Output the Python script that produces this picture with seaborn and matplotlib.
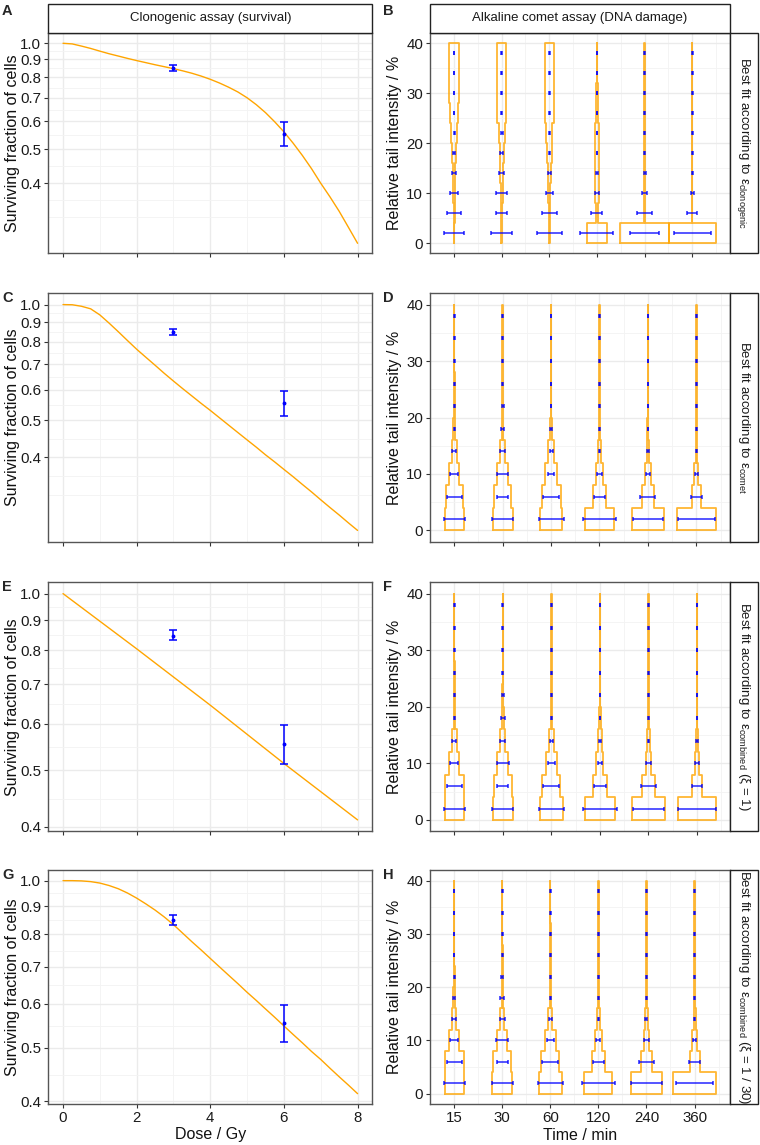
import numpy as np
import matplotlib
matplotlib.use("Agg")
import matplotlib.pyplot as plt
import seaborn as sns
import pandas as pd
from matplotlib.ticker import FixedLocator, FixedFormatter, NullFormatter
from matplotlib.patches import Rectangle

# ---------------- data ----------------
dose_curve = [0, 0.25, 0.5, 0.75, 1, 1.25, 1.5, 1.75, 2, 2.25, 2.5, 2.75, 3, 3.25, 3.5, 3.75,
              4, 4.25, 4.5, 4.75, 5, 5.25, 5.5, 5.75, 6, 6.25, 6.5, 6.75, 7, 7.25, 7.5, 7.75, 8]
sf_fit_A = [1.0, 0.996, 0.982, 0.967, 0.95, 0.934, 0.92, 0.906, 0.893, 0.881, 0.869, 0.858, 0.847,
            0.835, 0.822, 0.807, 0.79, 0.771, 0.75, 0.727, 0.70, 0.669, 0.635, 0.598, 0.56, 0.52,
            0.48, 0.44, 0.40, 0.366, 0.333, 0.30, 0.27]
sf_fit_C = [1.0, 0.999, 0.99, 0.975, 0.94, 0.895, 0.85, 0.806, 0.765, 0.729, 0.695, 0.662, 0.632,
            0.604, 0.578, 0.553, 0.53, 0.507, 0.485, 0.464, 0.444, 0.425, 0.406, 0.389, 0.372, 0.356,
            0.34, 0.325, 0.31, 0.296, 0.283, 0.27, 0.258]
dose_line_E = [0, 2, 4, 6, 8]
sf_fit_E = [1.0, 0.805, 0.645, 0.513, 0.411]
sf_fit_G = [1.0, 1.0, 0.999, 0.996, 0.99, 0.98, 0.967, 0.95, 0.93, 0.908, 0.885, 0.86, 0.833,
            0.804, 0.776, 0.750, 0.724, 0.699, 0.675, 0.652, 0.629, 0.608, 0.587, 0.567, 0.547,
            0.528, 0.510, 0.492, 0.476, 0.459, 0.443, 0.428, 0.413]

dose_obs = [3, 6]
sf_mean = [0.848, 0.553]
sf_lo = [0.833, 0.511]
sf_hi = [0.866, 0.597]

sf_ticks = [0.4, 0.5, 0.6, 0.7, 0.8, 0.9, 1.0]
sf_tick_labels = ["0.4", "0.5", "0.6", "0.7", "0.8", "0.9", "1.0"]
sf_minor = [0.32, 0.358, 0.447, 0.548, 0.648, 0.748, 0.849, 0.949]
dose_ticks = [0, 2, 4, 6, 8]
dose_tick_labels = ["0", "2", "4", "6", "8"]
dose_minor = [1, 3, 5, 7]

time_labels = ["15", "30", "60", "120", "240", "360"]
bin_edges = [0, 4, 8, 12, 16, 20, 24, 28, 32, 36, 40]
bin_mid = [2, 6, 10, 14, 18, 22, 26, 30, 34, 38]
tail_ticks = [0, 10, 20, 30, 40]
tail_minor = [5, 15, 25, 35]

# observed relative frequency (half-width of horizontal bars), per time, per bin
obs_15 = [0.219, 0.156, 0.080, 0.045, 0.014, 0.010, 0.007, 0.007, 0.007, 0.007]
obs_30 = [0.219, 0.111, 0.120, 0.052, 0.038, 0.020, 0.008, 0.007, 0.007, 0.007]
obs_60 = [0.257, 0.163, 0.070, 0.031, 0.012, 0.008, 0.007, 0.007, 0.007, 0.007]
obs_120 = [0.347, 0.115, 0.042, 0.017, 0.008, 0.007, 0.007, 0.007, 0.007, 0.007]
obs_240 = [0.313, 0.153, 0.045, 0.020, 0.008, 0.007, 0.007, 0.007, 0.007, 0.007]
obs_360 = [0.385, 0.111, 0.035, 0.012, 0.007, 0.007, 0.007, 0.007, 0.007, 0.007]

# model predicted frequency (half-width of stepped outlines)
fitB_15 = [0.008, 0.010, 0.020, 0.030, 0.045, 0.060, 0.085, 0.098, 0.098, 0.098]
fitB_30 = [0.008, 0.010, 0.020, 0.030, 0.045, 0.060, 0.090, 0.100, 0.100, 0.100]
fitB_60 = [0.008, 0.010, 0.020, 0.035, 0.050, 0.065, 0.090, 0.098, 0.098, 0.098]
fitB_120 = [0.210, 0.028, 0.050, 0.050, 0.040, 0.038, 0.020, 0.012, 0.008, 0.006]
fitB_240 = [0.508, 0.005, 0.004, 0.004, 0.004, 0.004, 0.004, 0.004, 0.004, 0.004]
fitB_360 = [0.497, 0.005, 0.004, 0.004, 0.004, 0.004, 0.004, 0.004, 0.004, 0.004]

fitD_15 = [0.195, 0.180, 0.100, 0.050, 0.015, 0.008, 0.006, 0.005, 0.004, 0.004]
fitD_30 = [0.205, 0.175, 0.113, 0.055, 0.015, 0.008, 0.006, 0.005, 0.004, 0.004]
fitD_60 = [0.233, 0.195, 0.120, 0.055, 0.018, 0.008, 0.006, 0.005, 0.004, 0.004]
fitD_120 = [0.305, 0.137, 0.068, 0.034, 0.012, 0.006, 0.005, 0.004, 0.004, 0.004]
fitD_240 = [0.336, 0.127, 0.058, 0.027, 0.010, 0.006, 0.005, 0.004, 0.004, 0.004]
fitD_360 = [0.404, 0.096, 0.038, 0.015, 0.008, 0.005, 0.004, 0.004, 0.004, 0.004]

fitF_15 = [0.192, 0.192, 0.106, 0.055, 0.015, 0.008, 0.006, 0.005, 0.004, 0.004]
fitF_30 = [0.206, 0.190, 0.113, 0.052, 0.015, 0.008, 0.006, 0.005, 0.004, 0.004]
fitF_60 = [0.237, 0.185, 0.115, 0.050, 0.015, 0.008, 0.006, 0.005, 0.004, 0.004]
fitF_120 = [0.305, 0.140, 0.072, 0.034, 0.012, 0.006, 0.005, 0.004, 0.004, 0.004]
fitF_240 = [0.336, 0.124, 0.055, 0.027, 0.010, 0.006, 0.005, 0.004, 0.004, 0.004]
fitF_360 = [0.388, 0.110, 0.041, 0.020, 0.008, 0.005, 0.004, 0.004, 0.004, 0.004]

fitH_15 = [0.198, 0.198, 0.104, 0.049, 0.015, 0.008, 0.006, 0.005, 0.004, 0.004]
fitH_30 = [0.208, 0.190, 0.108, 0.045, 0.015, 0.008, 0.006, 0.005, 0.004, 0.004]
fitH_60 = [0.236, 0.190, 0.120, 0.045, 0.015, 0.008, 0.006, 0.005, 0.004, 0.004]
fitH_120 = [0.290, 0.140, 0.070, 0.035, 0.012, 0.006, 0.005, 0.004, 0.004, 0.004]
fitH_240 = [0.326, 0.118, 0.060, 0.030, 0.010, 0.006, 0.005, 0.004, 0.004, 0.004]
fitH_360 = [0.444, 0.104, 0.045, 0.020, 0.008, 0.005, 0.004, 0.004, 0.004, 0.004]

col_titles = ["Clonogenic assay (survival)", "Alkaline comet assay (DNA damage)"]
row_titles = [
    "Best fit according to ε$_{\\mathrm{clonogenic}}$",
    "Best fit according to ε$_{\\mathrm{comet}}$",
    "Best fit according to ε$_{\\mathrm{combined}}$ (ξ = 1)",
    "Best fit according to ε$_{\\mathrm{combined}}$ (ξ = 1 / 30)",
]
tags_left = ["A", "C", "E", "G"]
tags_right = ["B", "D", "F", "H"]
xlabel_left = "Dose / Gy"
xlabel_right = "Time / min"
ylabel_left = "Surviving fraction of cells"
ylabel_right = "Relative tail intensity / %"

survival_fits = [(dose_curve, sf_fit_A), (dose_curve, sf_fit_C),
                 (dose_line_E, sf_fit_E), (dose_curve, sf_fit_G)]
observed = [obs_15, obs_30, obs_60, obs_120, obs_240, obs_360]
comet_fits = [
    [fitB_15, fitB_30, fitB_60, fitB_120, fitB_240, fitB_360],
    [fitD_15, fitD_30, fitD_60, fitD_120, fitD_240, fitD_360],
    [fitF_15, fitF_30, fitF_60, fitF_120, fitF_240, fitF_360],
    [fitH_15, fitH_30, fitH_60, fitH_120, fitH_240, fitH_360],
]

# ---------------- style ----------------
sns.set_theme(style="white")
plt.rcParams["font.family"] = ["Liberation Sans", "DejaVu Sans"]
plt.rcParams["mathtext.fontset"] = "custom"
plt.rcParams["mathtext.rm"] = "Liberation Sans"
plt.rcParams["mathtext.it"] = "Liberation Sans:italic"
plt.rcParams["axes.xmargin"] = 0.05
plt.rcParams["axes.ymargin"] = 0.05

ORANGE = "#FFA500"
BLUE = "#0000FF"
W, H = 760, 1145
fig = plt.figure(figsize=(W / 100, H / 100), dpi=100)


def rect(x0, x1, y0, y1):
    return [x0 / W, 1 - y1 / H, (x1 - x0) / W, (y1 - y0) / H]


rows = [(33.3, 253.3), (293.3, 541.7), (582.3, 831.2), (870.0, 1104.3)]
LX = (48.3, 372.3)
RX = (430.0, 729.5)
SX = (729.5, 758.3)

TICK_FS = 10.8
TITLE_FS = 11.5
STRIP_FS = 9.5


def style_axes(ax, bottom):
    ax.set_axisbelow(True)
    ax.grid(which="major", color="#EBEBEB", lw=1.0)
    ax.grid(which="minor", color="#F3F3F3", lw=0.6)
    for s in ax.spines.values():
        s.set_visible(True)
        s.set_color("#555555")
        s.set_linewidth(1.0)
    ax.tick_params(which="major", length=3, width=0.8, color="#333333",
                   labelsize=TICK_FS, labelcolor="#1A1A1A", pad=2,
                   bottom=True, left=True)
    ax.tick_params(which="minor", length=0)
    if not bottom:
        ax.tick_params(labelbottom=False)


for r in range(4):
    y0, y1 = rows[r]
    bottom = r == 3
    # ---- survival panel ----
    ax = fig.add_axes(rect(LX[0], LX[1], y0, y1))
    ax.set_yscale("log")
    dx, sy = survival_fits[r]
    df = pd.DataFrame({"dose": dx, "sf": sy})
    sns.lineplot(data=df, x="dose", y="sf", ax=ax, color=ORANGE, linewidth=1.0)
    yerr = [np.array(sf_mean) - np.array(sf_lo), np.array(sf_hi) - np.array(sf_mean)]
    ax.errorbar(dose_obs, sf_mean, yerr=yerr, fmt="o", ms=1.8, color=BLUE,
                ecolor=BLUE, elinewidth=1.1, capsize=2.9, capthick=1.1)
    ax.yaxis.set_major_locator(FixedLocator(sf_ticks))
    ax.yaxis.set_major_formatter(FixedFormatter(sf_tick_labels))
    ax.yaxis.set_minor_locator(FixedLocator(sf_minor))
    ax.yaxis.set_minor_formatter(NullFormatter())
    ax.xaxis.set_major_locator(FixedLocator(dose_ticks))
    ax.xaxis.set_major_formatter(FixedFormatter(dose_tick_labels))
    ax.xaxis.set_minor_locator(FixedLocator(dose_minor))
    style_axes(ax, bottom)
    ax.set_ylabel(ylabel_left, fontsize=TITLE_FS, color="#111111")
    ax.yaxis.label.set_va("center")
    ax.yaxis.set_label_coords((13 - LX[0]) / (LX[1] - LX[0]), 0.5)
    if bottom:
        ax.set_xlabel(xlabel_left, fontsize=TITLE_FS, color="#111111")
        ax.xaxis.label.set_va("center")
        ax.xaxis.set_label_coords(0.5, -(1135 - y1) / (y1 - y0))
    else:
        ax.set_xlabel("")

    # ---- comet panel ----
    ax2 = fig.add_axes(rect(RX[0], RX[1], y0, y1))
    nb = len(bin_mid)
    for i in range(len(time_labels)):
        c = i + 1
        hw = comet_fits[r][i]
        xs, ys = [c - hw[0]], [bin_edges[0]]
        for j in range(nb):
            xs += [c + hw[j], c + hw[j]]
            ys += [bin_edges[j], bin_edges[j + 1]]
        for j in reversed(range(nb)):
            xs += [c - hw[j], c - hw[j]]
            ys += [bin_edges[j + 1], bin_edges[j]]
        ax2.plot(xs, ys, color=ORANGE, lw=1.3, alpha=0.8)
        ax2.errorbar([c] * nb, bin_mid, xerr=observed[i], fmt="none", ecolor=BLUE,
                     elinewidth=1.1, capsize=1.5, capthick=1.1, alpha=0.85)
    ax2.xaxis.set_major_locator(FixedLocator(list(range(1, len(time_labels) + 1))))
    ax2.xaxis.set_major_formatter(FixedFormatter(time_labels))
    ax2.xaxis.set_minor_locator(FixedLocator([0.5, 1.5, 2.5, 3.5, 4.5, 5.5, 6.5]))
    ax2.yaxis.set_major_locator(FixedLocator(tail_ticks))
    ax2.yaxis.set_minor_locator(FixedLocator(tail_minor))
    style_axes(ax2, bottom)
    ax2.set_ylabel(ylabel_right, fontsize=TITLE_FS, color="#111111")
    ax2.yaxis.label.set_va("center")
    ax2.yaxis.set_label_coords((395 - RX[0]) / (RX[1] - RX[0]), 0.5)
    if bottom:
        ax2.set_xlabel(xlabel_right, fontsize=TITLE_FS, color="#111111")
        ax2.xaxis.label.set_va("center")
        ax2.xaxis.set_label_coords(0.5, -(1135 - y1) / (y1 - y0))

    # ---- right strip ----
    fig.add_artist(Rectangle((SX[0] / W, 1 - y1 / H), (SX[1] - SX[0]) / W, (y1 - y0) / H,
                             transform=fig.transFigure, facecolor="white",
                             edgecolor="#222222", lw=1.0))
    fig.text((SX[0] + SX[1]) / 2 / W, 1 - (y0 + y1) / 2 / H, row_titles[r],
             rotation=270, ha="center", va="center", fontsize=STRIP_FS, color="#1A1A1A")

    # ---- tags ----
    fig.text(2 / W, 1 - (y0 - 29 if r == 0 else y0 - 2) / H, tags_left[r],
             fontweight="bold", fontsize=10.5, ha="left", va="top")
    fig.text(383 / W, 1 - (y0 - 29 if r == 0 else y0 - 2) / H, tags_right[r],
             fontweight="bold", fontsize=10.5, ha="left", va="top")

# ---- top strips ----
for (x0, x1), t in zip([LX, RX], col_titles):
    fig.add_artist(Rectangle((x0 / W, 1 - 33.3 / H), (x1 - x0) / W, (33.3 - 4) / H,
                             transform=fig.transFigure, facecolor="white",
                             edgecolor="#222222", lw=1.0))
    fig.text((x0 + x1) / 2 / W, 1 - 18.5 / H, t, ha="center", va="center",
             fontsize=STRIP_FS, color="#1A1A1A")

fig.savefig("out.png", dpi=100)
